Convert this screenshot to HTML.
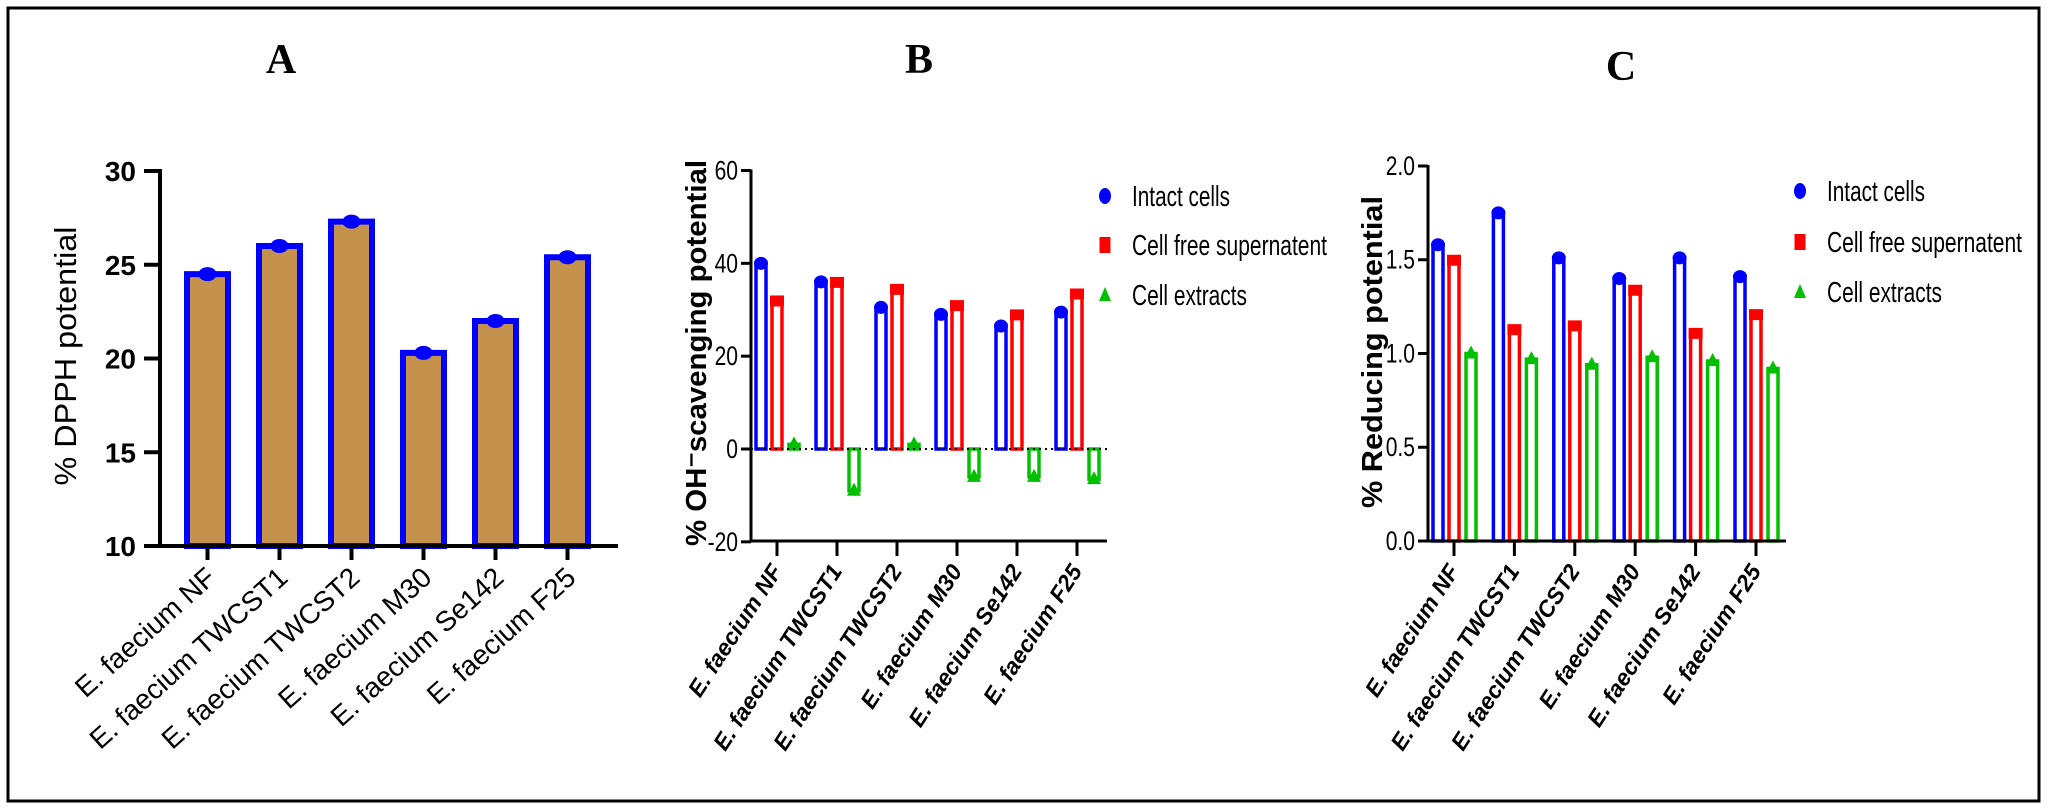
<!DOCTYPE html>
<html><head><meta charset="utf-8">
<style>
html,body{margin:0;padding:0;background:#fff;}
svg{display:block;font-family:"Liberation Sans",sans-serif;}
</style></head>
<body>
<svg id="fig" width="2050" height="810" viewBox="0 0 2050 810" xmlns="http://www.w3.org/2000/svg">
<rect x="8" y="8" width="2031" height="793" fill="none" stroke="#000" stroke-width="3"/>
<text x="281" y="73" font-family="Liberation Serif,serif" font-weight="bold" font-size="42" text-anchor="middle">A</text>
<text x="919" y="73" font-family="Liberation Serif,serif" font-weight="bold" font-size="42" text-anchor="middle">B</text>
<text x="1621" y="80" font-family="Liberation Serif,serif" font-weight="bold" font-size="42" text-anchor="middle">C</text>
<g id="pa"></g>
<g id="pb"></g>
<g id="pc"></g>
</svg>
<script>
const categories = ["E. faecium NF","E. faecium TWCST1","E. faecium TWCST2","E. faecium M30","E. faecium Se142","E. faecium F25"];
const dpphValues = [24.5, 26.0, 27.3, 20.3, 22.0, 25.4];
const dpphTicks = [10, 15, 20, 25, 30];
const ohIntact = [40, 36, 30.5, 29, 26.5, 29.5];
const ohSupernatant = [32, 36, 34.5, 31, 29, 33.5];
const ohExtracts = [1, -9, 1, -6, -6, -6.5];
const ohTicks = [-20, 0, 20, 40, 60];
const redIntact = [1.58, 1.75, 1.51, 1.40, 1.51, 1.41];
const redSupernatant = [1.50, 1.13, 1.15, 1.34, 1.11, 1.21];
const redExtracts = [1.00, 0.97, 0.94, 0.98, 0.96, 0.92];
const redTicks = ["0.0", "0.5", "1.0", "1.5", "2.0"];
const legendLabels = ["Intact cells", "Cell free supernatent", "Cell extracts"];

const NS = "http://www.w3.org/2000/svg";
function mk(parent, tag, attrs, txt){
  const e = document.createElementNS(NS, tag);
  for (const k in attrs) e.setAttribute(k, attrs[k]);
  if (txt !== undefined) e.textContent = txt;
  parent.appendChild(e);
  return e;
}

/* ---------- Panel A ---------- */
(function(){
  const g = document.getElementById('pa');
  const y = v => 546 + (v - 10) * (171 - 546) / 20;
  const x = i => 207.5 + i * 72;
  categories.forEach((c, i) => {
    const cx = x(i), top = y(dpphValues[i]);
    const r = mk(g, 'rect', {x: cx - 20.5, y: top, width: 41, height: 546 - top, fill: '#c4924d', stroke: '#0000ff', 'stroke-width': 6});
    
    
    const d = mk(g, 'ellipse', {cx: cx, cy: top, rx: 9, ry: 7, fill: '#0000ff'});
    
    
    const t = mk(g, 'line', {x1: cx, y1: 546, x2: cx, y2: 560, stroke: '#000', 'stroke-width': 4});
    
    
    const lb = mk(g, 'text', {x: 0, y: 0, 'font-size': 28, 'text-anchor': 'end', transform: `translate(${cx + 10},${580}) rotate(-42)`}, c);
    
    
  });
  mk(g, 'line', {x1: 160, y1: 169, x2: 160, y2: 547, stroke: '#000', 'stroke-width': 4});
  mk(g, 'line', {x1: 158, y1: 546, x2: 618, y2: 546, stroke: '#000', 'stroke-width': 4});
  dpphTicks.forEach(v => {
    const yy = y(v);
    const tk = mk(g, 'line', {x1: 144, y1: yy, x2: 160, y2: yy, stroke: '#000', 'stroke-width': 4});
    
    
    const tl = mk(g, 'text', {x: 136, y: yy + 10, 'font-size': 28, 'font-weight': 'bold', 'text-anchor': 'end'}, String(v));
    
    
  });
  const yt = mk(g, 'text', {x: 0, y: 0, 'font-size': 31, 'text-anchor': 'middle', textLength: 259, lengthAdjust: 'spacingAndGlyphs', transform: 'translate(76,356) rotate(-90)'}, '% DPPH potential');
  
  
})();

/* ---------- grouped hollow bar panels ---------- */
function groupPanel(gid, opt){
  const g = document.getElementById(gid);
  const y = opt.y, y0 = y(0);
  const colors = ['#0000ff', '#ff0000', '#00c000'];
  const series = opt.series;
  categories.forEach((c, i) => {
    const gx = opt.x0 + i * opt.step;
    series.forEach((arr, s) => {
      const cx = gx + [-16, 0, 17][s];
      const v = arr[i], yv = y(v);
      const top = Math.min(yv, y0), h = Math.abs(yv - y0);
      const b = mk(g, 'rect', {x: cx - 5, y: top, width: 10, height: h, fill: '#fff', stroke: colors[s], 'stroke-width': 3.5});
      
      
      let m;
      if (s === 0) m = mk(g, 'ellipse', {cx: cx, cy: yv, rx: 7, ry: 6.5, fill: colors[s]});
      else if (s === 1) m = mk(g, 'rect', {x: cx - 7, y: yv - 5, width: 14, height: 11, fill: colors[s]});
      else m = mk(g, 'polygon', {points: `${cx - 7},${yv + 5} ${cx + 7},${yv + 5} ${cx},${yv - 8}`, fill: colors[s]});
      
      
    });
    const t = mk(g, 'line', {x1: gx, y1: opt.axisY, x2: gx, y2: opt.axisY + 15, stroke: '#000', 'stroke-width': 3});
    
    
    const lb = mk(g, 'text', {x: 0, y: 0, 'font-size': 23, 'font-weight': 'bold', 'font-style': 'italic', 'text-anchor': 'end', transform: `translate(${gx + 6},${opt.axisY + 30}) rotate(-57)`}, c);
    
    
  });
  if (opt.zeroLine) {
    const zl = mk(g, 'line', {x1: opt.axX, y1: y0, x2: opt.axEnd, y2: y0, stroke: '#000', 'stroke-width': 2, 'stroke-dasharray': '2,4'});
    
    
  }
  mk(g, 'line', {x1: opt.axX, y1: y(opt.ticks[opt.ticks.length - 1]) - 1, x2: opt.axX, y2: opt.axisY + 1, stroke: '#000', 'stroke-width': 3});
  mk(g, 'line', {x1: opt.axX - 1, y1: opt.axisY, x2: opt.axEnd, y2: opt.axisY, stroke: '#000', 'stroke-width': 3});
  opt.ticks.forEach(tv => {
    const yy = y(parseFloat(tv));
    const tk = mk(g, 'line', {x1: opt.axX - 10, y1: yy, x2: opt.axX, y2: yy, stroke: '#000', 'stroke-width': 3});
    
    
    const tx = opt.axX - 13;
    const tl = mk(g, 'text', {x: tx, y: yy + 9, 'font-size': 27, 'text-anchor': 'end', transform: `translate(${tx},0) scale(0.78,1) translate(${-tx},0)`}, String(tv));
    
    
  });
  const yt = mk(g, 'text', {x: 0, y: 0, 'font-size': 29, 'font-weight': 'bold', 'text-anchor': 'middle', textLength: opt.titleLen, lengthAdjust: 'spacingAndGlyphs', transform: `translate(${opt.titleX},${opt.titleY}) rotate(-90)`}, opt.title);
  
  
  legendLabels.forEach((l, s) => {
    const ly = opt.legY[s], lx = opt.legX;
    let m;
    if (s === 0) m = mk(g, 'ellipse', {cx: lx, cy: ly, rx: 6, ry: 8, fill: colors[s]});
    else if (s === 1) m = mk(g, 'rect', {x: lx - 5.5, y: ly - 8, width: 11, height: 16, fill: colors[s]});
    else m = mk(g, 'polygon', {points: `${lx - 6},${ly + 6} ${lx + 6},${ly + 6} ${lx},${ly - 8}`, fill: colors[s]});
    
    
    const widths = [98, 195, 115];
    const t = mk(g, 'text', {x: opt.legX + 27, y: ly + 10, 'font-size': 29, textLength: widths[s], lengthAdjust: 'spacingAndGlyphs'}, l);
    
    
  });
}

groupPanel('pb', {
  name: 'oh',
  y: v => 449 + v * (170.5 - 449) / 60,
  x0: 777, step: 60, axX: 751, axEnd: 1107, axisY: 541,
  series: [ohIntact, ohSupernatant, ohExtracts],
  ticks: ohTicks, zeroLine: true,
  title: '% OH\u207Bscavenging potential', titleX: 706, titleY: 353, titleLen: 386,
  legX: 1105, legY: [196, 245, 295]
});
groupPanel('pc', {
  name: 'reducing',
  y: v => 541 + v * (166 - 541) / 2,
  x0: 1454, step: 60.4, axX: 1428, axEnd: 1786, axisY: 541,
  series: [redIntact, redSupernatant, redExtracts],
  ticks: redTicks, zeroLine: false,
  title: '% Reducing potential', titleX: 1382, titleY: 352, titleLen: 312,
  legX: 1800, legY: [191, 242, 292]
});
</script>
</body></html>
